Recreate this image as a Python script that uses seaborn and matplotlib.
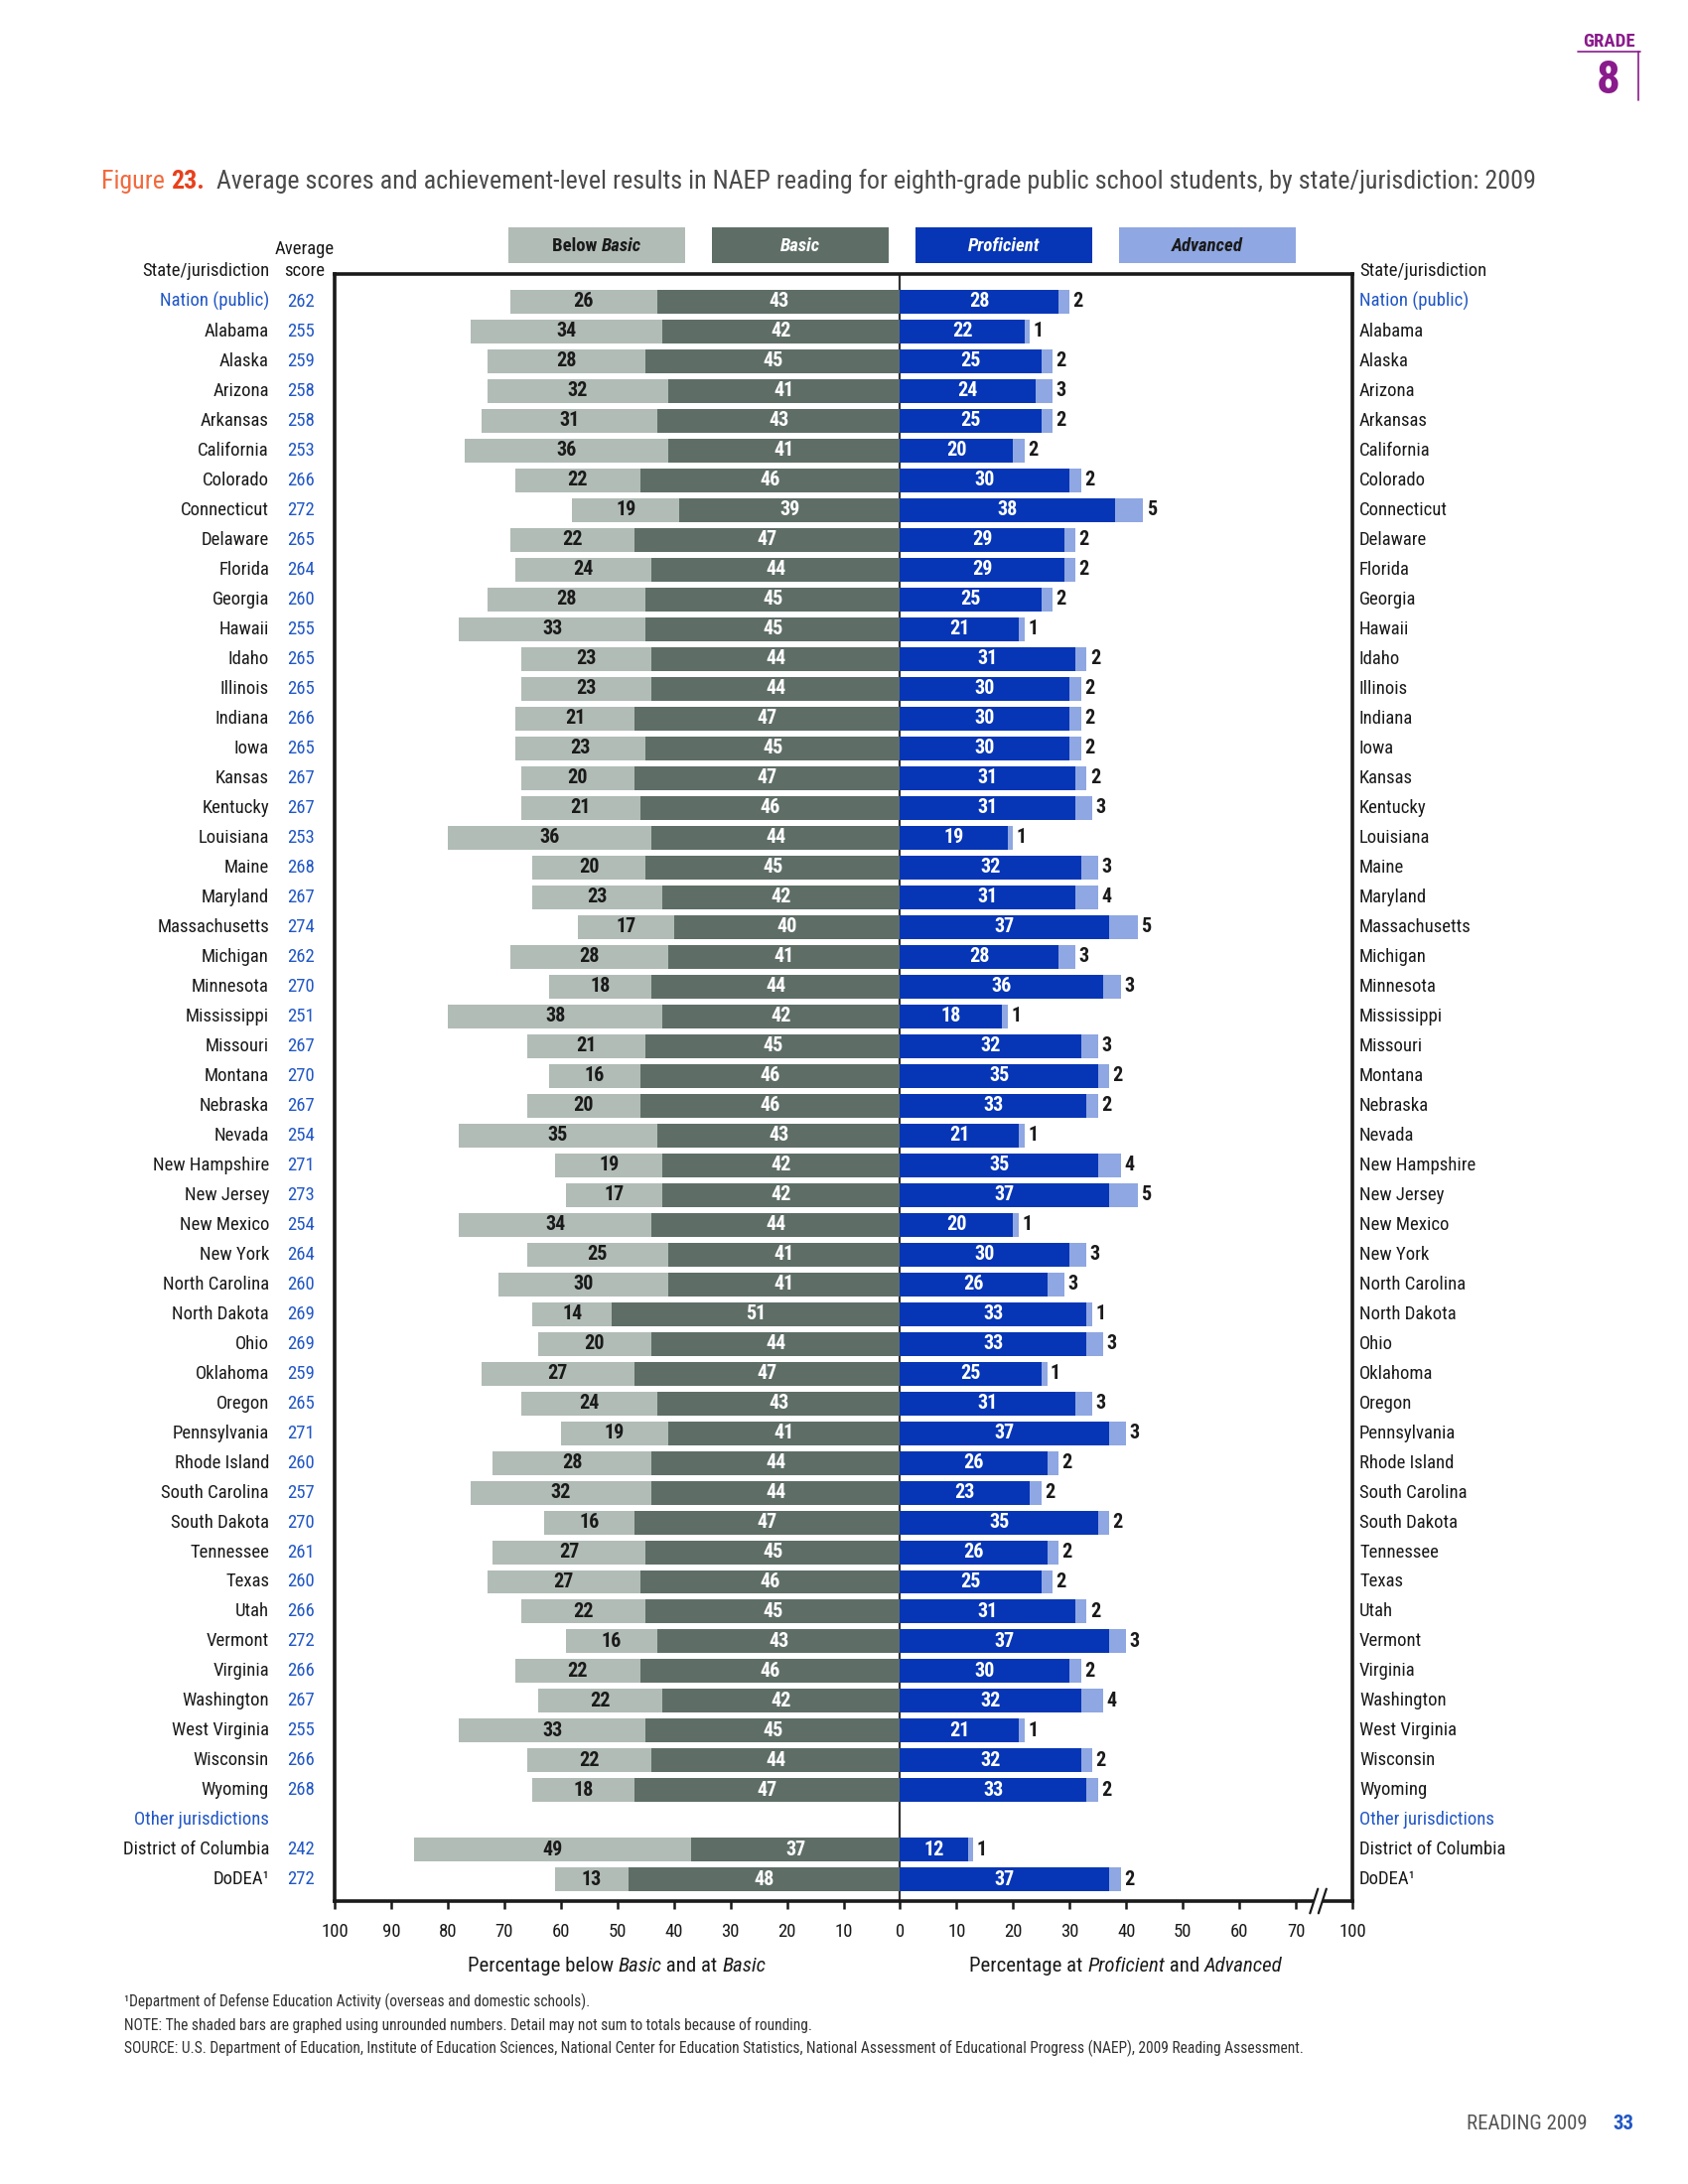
import numpy as np
import pandas as pd
import matplotlib
matplotlib.use('Agg')
import matplotlib.pyplot as plt
import seaborn as sns
from matplotlib import font_manager
from matplotlib.patches import Rectangle
from matplotlib.lines import Line2D

# ===============================
# Data (NAEP 2009 reading, grade 8)
# ===============================
states = ['Nation (public)', 'Alabama', 'Alaska', 'Arizona', 'Arkansas', 'California',
          'Colorado', 'Connecticut', 'Delaware', 'Florida', 'Georgia', 'Hawaii', 'Idaho',
          'Illinois', 'Indiana', 'Iowa', 'Kansas', 'Kentucky', 'Louisiana', 'Maine',
          'Maryland', 'Massachusetts', 'Michigan', 'Minnesota', 'Mississippi', 'Missouri',
          'Montana', 'Nebraska', 'Nevada', 'New Hampshire', 'New Jersey', 'New Mexico',
          'New York', 'North Carolina', 'North Dakota', 'Ohio', 'Oklahoma', 'Oregon',
          'Pennsylvania', 'Rhode Island', 'South Carolina', 'South Dakota', 'Tennessee',
          'Texas', 'Utah', 'Vermont', 'Virginia', 'Washington', 'West Virginia',
          'Wisconsin', 'Wyoming', 'District of Columbia', 'DoDEA¹']
scores = [262, 255, 259, 258, 258, 253, 266, 272, 265, 264, 260, 255, 265, 265, 266, 265,
          267, 267, 253, 268, 267, 274, 262, 270, 251, 267, 270, 267, 254, 271, 273, 254,
          264, 260, 269, 269, 259, 265, 271, 260, 257, 270, 261, 260, 266, 272, 266, 267,
          255, 266, 268, 242, 272]
below_basic = [26, 34, 28, 32, 31, 36, 22, 19, 22, 24, 28, 33, 23, 23, 21, 23, 20, 21, 36,
               20, 23, 17, 28, 18, 38, 21, 16, 20, 35, 19, 17, 34, 25, 30, 14, 20, 27, 24,
               19, 28, 32, 16, 27, 27, 22, 16, 22, 22, 33, 22, 18, 49, 13]
basic = [43, 42, 45, 41, 43, 41, 46, 39, 47, 44, 45, 45, 44, 44, 47, 45, 47, 46, 44, 45,
         42, 40, 41, 44, 42, 45, 46, 46, 43, 42, 42, 44, 41, 41, 51, 44, 47, 43, 41, 44,
         44, 47, 45, 46, 45, 43, 46, 42, 45, 44, 47, 37, 48]
proficient = [28, 22, 25, 24, 25, 20, 30, 38, 29, 29, 25, 21, 31, 30, 30, 30, 31, 31, 19,
              32, 31, 37, 28, 36, 18, 32, 35, 33, 21, 35, 37, 20, 30, 26, 33, 33, 25, 31,
              37, 26, 23, 35, 26, 25, 31, 37, 30, 32, 21, 32, 33, 12, 37]
advanced = [2, 1, 2, 3, 2, 2, 2, 5, 2, 2, 2, 1, 2, 2, 2, 2, 2, 3, 1, 3, 4, 5, 3, 3, 1, 3,
            2, 2, 1, 4, 5, 1, 3, 3, 1, 3, 1, 3, 3, 2, 2, 2, 2, 2, 2, 3, 2, 4, 1, 2, 2, 1, 2]

GAP = 'Other jurisdictions'
order = states[:51] + [GAP] + states[51:]
blue_rows = ['Nation (public)', GAP]

left_ticks = [100, 90, 80, 70, 60, 50, 40, 30, 20, 10, 0]
right_ticks = [10, 20, 30, 40, 50, 60, 70]
BREAK_POS = 80          # right end of the broken axis is labelled 100
BREAK_LABEL = '100'

df = pd.DataFrame({'state': states, 'score': scores, 'bb': below_basic, 'b': basic,
                   'p': proficient, 'a': advanced})
df['left_total'] = -(df['bb'] + df['b'])
df['left_basic'] = -df['b']
df['right_total'] = df['p'] + df['a']
df['right_prof'] = df['p']

# colours
C_BB = '#b1bcb6'
C_B = '#5e6e67'
C_PROF = '#0636b6'
C_ADV = '#8fa7e2'
C_BLUE = '#2157c6'
C_TXT = '#1a1a1a'

# ===============================
# Fonts
# ===============================
sns.set_theme(style='white')
installed = {f.name for f in font_manager.fontManager.ttflist}
fam = next((f for f in ['Roboto Condensed', 'Liberation Sans Narrow', 'Open Sans Condensed']
            if f in installed), 'DejaVu Sans')
narrow = fam != 'DejaVu Sans'
plt.rcParams['font.family'] = [fam, 'DejaVu Sans']
if not narrow:
    plt.rcParams['font.stretch'] = 'condensed'
k = 1.0 if narrow else 0.8

fs_lab = 13.5 * k
fs_bar = 14.5 * k

# ===============================
# Figure
# ===============================
W, H = 1700, 2200
fig = plt.figure(figsize=(17, 22), dpi=100)
fig.patch.set_facecolor('white')


def fx(x):
    return x / W


def fy(y):
    return 1 - y / H


ax_l, ax_r, ax_t, ax_b = 337, 1362, 276, 1915
ax = fig.add_axes([fx(ax_l), fy(ax_b), (ax_r - ax_l) / W, (ax_b - ax_t) / H])

kw = dict(y='state', order=order, orient='h', width=0.8, errorbar=None, ax=ax,
          saturation=1, linewidth=0)
sns.barplot(data=df, x='left_total', color=C_BB, **kw)
sns.barplot(data=df, x='left_basic', color=C_B, **kw)
sns.barplot(data=df, x='right_total', color=C_ADV, **kw)
sns.barplot(data=df, x='right_prof', color=C_PROF, **kw)

ax.axvline(0, color='#333333', lw=1.6, zorder=0.5)

n = len(order)
ax.set_xlim(-left_ticks[0], BREAK_POS)
ax.set_ylim(n - 1 + 0.72, -0.93)
ax.set_yticks([])
ax.set_xlabel('')
ax.set_ylabel('')

xt = [-t for t in left_ticks] + right_ticks + [BREAK_POS]
xl = [str(t) for t in left_ticks] + [str(t) for t in right_ticks] + [BREAK_LABEL]
ax.set_xticks(xt)
ax.set_xticklabels(xl)
ax.tick_params(axis='x', direction='out', length=6, width=1.8, color=C_TXT, pad=10,
               labelsize=fs_lab, labelcolor=C_TXT, bottom=True)
for sp in ax.spines.values():
    sp.set_visible(True)
    sp.set_color(C_TXT)
    sp.set_linewidth(2.6)

# axis break //
xtr = ax.get_xaxis_transform()
ax.add_patch(Rectangle((73.2, -0.01), 1.5, 0.02, transform=xtr, facecolor='white',
                       edgecolor='none', clip_on=False, zorder=5))
for xb in (73.2, 74.7):
    ax.add_line(Line2D([xb - 0.7, xb + 0.7], [-0.0075, 0.0075], transform=xtr,
                       color=C_TXT, lw=1.6, clip_on=False, zorder=6))

# bar labels
for _, r in df.iterrows():
    yi = order.index(r['state'])
    ax.text(-(r['b'] + r['bb'] / 2), yi, str(r['bb']), ha='center', va='center',
            fontsize=fs_bar, fontweight='bold', color=C_TXT)
    ax.text(-r['b'] / 2, yi, str(r['b']), ha='center', va='center',
            fontsize=fs_bar, fontweight='bold', color='white')
    ax.text(r['p'] / 2, yi, str(r['p']), ha='center', va='center',
            fontsize=fs_bar, fontweight='bold', color='white')
    ax.text(r['p'] + r['a'] + 0.6, yi, str(r['a']), ha='left', va='center',
            fontsize=fs_bar, fontweight='bold', color=C_TXT)

# row labels and scores
ytr = ax.get_yaxis_transform()
x_name_l = (271 - ax_l) / (ax_r - ax_l)
x_score = (317 - ax_l) / (ax_r - ax_l)
x_name_r = (1369 - ax_l) / (ax_r - ax_l)
for yi, name in enumerate(order):
    col = C_BLUE if name in blue_rows else C_TXT
    ax.text(x_name_l, yi, name, transform=ytr, ha='right', va='center',
            fontsize=fs_lab, color=col, clip_on=False)
    ax.text(x_name_r, yi, name, transform=ytr, ha='left', va='center',
            fontsize=fs_lab, color=col, clip_on=False)
for name, sc in zip(states, scores):
    ax.text(x_score, order.index(name), str(sc), transform=ytr, ha='right', va='center',
            fontsize=fs_lab, color=C_BLUE, clip_on=False)

# ===============================
# Figure-level text helpers
# ===============================
renderer = fig.canvas.get_renderer()


def chain(x, y, parts, ha='left', **common):
    """Place text pieces one after another; x, y in pixels (baseline)."""
    texts = []
    cur = fx(x)
    for s, extra in parts:
        t = fig.text(cur, fy(y), s, ha='left', va='baseline', **{**common, **extra})
        bb = t.get_window_extent(renderer)
        cur = bb.x1 / W
        texts.append(t)
    if ha == 'center':
        shift = (cur - fx(x)) / 2
        for t in texts:
            t.set_x(t.get_position()[0] - shift)
    return texts


# legend boxes
legend = [('Below ', 'Basic', C_BB, C_TXT), ('', 'Basic', C_B, 'white'),
          ('', 'Proficient', C_PROF, 'white'), ('', 'Advanced', C_ADV, C_TXT)]
for i, (pre, it, fc, tc) in enumerate(legend):
    x0 = 512 + i * 205
    fig.add_artist(Rectangle((fx(x0), fy(265)), 178 / W, 36 / H, transform=fig.transFigure,
                             facecolor=fc, edgecolor='none'))
    parts = ([(pre, {})] if pre else []) + [(it, {'style': 'italic'})]
    chain(x0 + 89, 253, parts, ha='center', fontsize=13.5 * k, color=tc, fontweight='bold')

# column headers
fig.text(fx(271), fy(278), 'State/jurisdiction', ha='right', va='baseline',
         fontsize=fs_lab, color=C_TXT)
fig.text(fx(307), fy(256), 'Average', ha='center', va='baseline', fontsize=fs_lab, color=C_TXT)
fig.text(fx(307), fy(278), 'score', ha='center', va='baseline', fontsize=fs_lab, color=C_TXT)
fig.text(fx(1369), fy(278), 'State/jurisdiction', ha='left', va='baseline',
         fontsize=fs_lab, color=C_TXT)

# axis titles
chain(621, 1986, [('Percentage below ', {}), ('Basic', {'style': 'italic'}),
                  (' and at ', {}), ('Basic', {'style': 'italic'})],
      ha='center', fontsize=15 * k, color=C_TXT)
chain(1134, 1986, [('Percentage at ', {}), ('Proficient', {'style': 'italic'}),
                   (' and ', {}), ('Advanced', {'style': 'italic'})],
      ha='center', fontsize=15 * k, color=C_TXT)

# title
chain(102, 190, [('Figure ', {'color': '#f26a3d'}),
                 ('23.', {'color': '#e8401c', 'fontweight': 'bold'}),
                 ('  Average scores and achievement-level results in NAEP reading for '
                  'eighth-grade public school students, by state/jurisdiction: 2009',
                  {'color': '#4a4a4a'})],
      fontsize=18.7 * k)

# footnotes
notes = ['¹Department of Defense Education Activity (overseas and domestic schools).',
         'NOTE: The shaded bars are graphed using unrounded numbers. Detail may not sum to '
         'totals because of rounding.',
         'SOURCE: U.S. Department of Education, Institute of Education Sciences, National '
         'Center for Education Statistics, National Assessment of Educational Progress '
         '(NAEP), 2009 Reading Assessment.']
for i, s in enumerate(notes):
    fig.text(fx(125), fy(2021 + i * 23.5), s, ha='left', va='baseline',
             fontsize=11.2 * k, color='#333333')

# grade tab
fig.text(fx(1620), fy(47), 'GRADE', ha='center', va='baseline', fontsize=13.5 * k,
         fontweight='bold', color='#8a1b8c')
fig.text(fx(1620), fy(94), '8', ha='center', va='baseline', fontsize=34,
         fontweight='bold', color='#8a1b8c')
fig.add_artist(Line2D([fx(1589), fx(1652)], [fy(52), fy(52)], color='#8a1b8c', lw=1.2))
fig.add_artist(Line2D([fx(1650), fx(1650)], [fy(52), fy(101)], color='#8a1b8c', lw=1.2))

# footer
fig.text(fx(1599), fy(2145), 'READING 2009', ha='right', va='baseline', fontsize=15 * k,
         color='#555555')
fig.text(fx(1624), fy(2145), '33', ha='left', va='baseline', fontsize=15 * k,
         fontweight='bold', color=C_BLUE)

fig.savefig('out.png', dpi=100, facecolor='white')
